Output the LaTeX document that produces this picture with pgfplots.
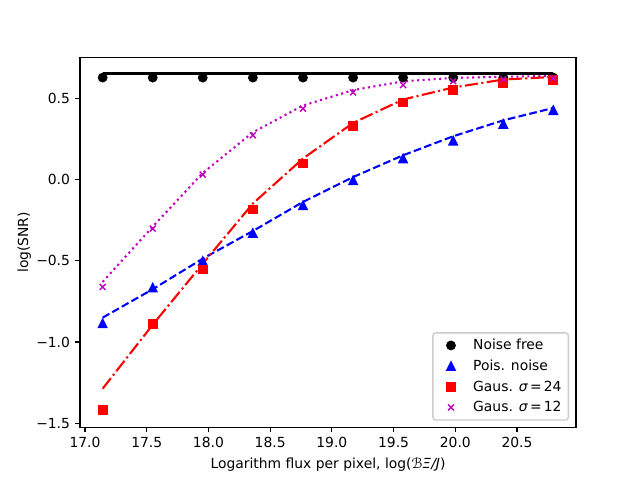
\documentclass[border=0pt]{standalone}
\usepackage{fontspec}
\setmainfont{DejaVu Sans}
\usepackage{pgfplots}
\pgfplotsset{compat=1.18}

\definecolor{mplm}{rgb}{0.75,0,0.75}
\pgfdeclareplotmark{mpltri}{%
  \pgfpathmoveto{\pgfqpoint{0pt}{\pgfplotmarksize}}%
  \pgfpathlineto{\pgfqpoint{-\pgfplotmarksize}{-\pgfplotmarksize}}%
  \pgfpathlineto{\pgfqpoint{\pgfplotmarksize}{-\pgfplotmarksize}}%
  \pgfpathclose\pgfusepathqfillstroke}

\pgfplotstableread{
x      nf     nfl    po      pol     g24     g24l    g12     g12l
17.143 0.627  0.652  -0.885  -0.850  -1.420  -1.287  -0.661  -0.630
17.549 0.627  0.652  -0.665  -0.675  -0.887  -0.893  -0.302  -0.290
17.954 0.627  0.652  -0.502  -0.487  -0.553  -0.518   0.030   0.040
18.360 0.627  0.652  -0.329  -0.317  -0.184  -0.148   0.272   0.290
18.766 0.627  0.652  -0.159  -0.138   0.098   0.129   0.436   0.455
19.172 0.627  0.652  -0.005   0.015   0.327   0.348   0.536   0.550
19.577 0.627  0.652   0.129   0.149   0.473   0.492   0.581   0.604
19.983 0.627  0.652   0.239   0.266   0.549   0.566   0.605   0.625
20.389 0.627  0.652   0.342   0.364   0.594   0.615   0.617   0.632
20.794 0.627  0.652   0.426   0.440   0.610   0.631   0.622   0.637
}\datatab

\newcommand\tfont{\fontsize{10bp}{12bp}\selectfont}

\begin{document}
\begin{tikzpicture}
\useasboundingbox (0,0) rectangle (460.8bp,345.6bp);
\begin{axis}[
  at={(57.6bp,38.016bp)}, anchor=south west,
  scale only axis, width=357.12bp, height=266.112bp,
  xmin=16.9595, xmax=20.978, ymin=-1.524, ymax=0.750,
  xtick={17,17.5,18,18.5,19,19.5,20,20.5},
  xticklabels={17.0,17.5,18.0,18.5,19.0,19.5,20.0,20.5},
  ytick={-1.5,-1,-0.5,0,0.5},
  yticklabels={−1.5,−1.0,−0.5,0.0,0.5},
  tick align=outside, xtick pos=bottom, ytick pos=left,
  major tick length=3.5bp,
  every tick/.style={line width=0.8bp, black},
  axis line style={line width=0.8bp},
  xticklabel style={font=\tfont, inner sep=0pt, anchor=north, yshift=-3.5bp},
  yticklabel style={font=\tfont, inner sep=0pt, anchor=east, xshift=-3.5bp},
  every axis x label/.style={at={(axis description cs:0.5,-0.082)}, anchor=north, inner sep=0pt, font=\tfont},
  every axis y label/.style={at={(axis description cs:-0.098,0.5)}, rotate=90, anchor=south, inner sep=0pt, font=\tfont},
  xlabel={Logarithm flux per pixel, log(\textit{ℬΞ/J})},
  ylabel={log(SNR)},
  legend style={
    at={(axis description cs:0.986,0.0176)}, anchor=south east,
    draw=black!20, line width=1bp, rounded corners=2bp,
    fill=white, fill opacity=0.8, text opacity=1,
    font=\tfont, inner xsep=3bp, inner ysep=2.5bp,
    row sep=1.8bp,
    cells={anchor=west, inner sep=0pt, text height=7.6bp, text depth=2.5bp},
    /tikz/every odd column/.append style={column sep=4bp},
  },
  legend image code/.code={%
    \path[draw=none,fill=none] (0bp,-3bp) rectangle (20bp,3bp);
    \draw[mark repeat=2,mark phase=2,#1,opacity=1,fill opacity=1,draw opacity=1] plot coordinates {(0bp,0bp) (10bp,0bp) (20bp,0bp)};},
  clip=false,
]
% Noise free
\addplot[only marks, mark=*, mark size=3bp, black, line width=1bp] table[x=x,y=nf] {\datatab};
\addlegendentry{Noise free}
\addplot[forget plot, black, line width=1.5bp] table[x=x,y=nfl] {\datatab};
% Poisson
\addplot[only marks, mark=mpltri, mark size=3bp, blue, line width=1bp] table[x=x,y=po] {\datatab};
\addlegendentry{Pois. noise}
\addplot[forget plot, blue, line width=1.5bp, dash pattern=on 5.55bp off 2.4bp] table[x=x,y=pol] {\datatab};
% Gauss 24
\addplot[only marks, mark=square*, mark size=3bp, red, line width=1bp] table[x=x,y=g24] {\datatab};
\addlegendentry{Gaus. \textit{σ}\hspace{1.5bp}=\hspace{1.5bp}24}
\addplot[forget plot, red, line width=1.5bp, dash pattern=on 9.6bp off 2.4bp on 1.5bp off 2.4bp] table[x=x,y=g24l] {\datatab};
% Gauss 12
\addplot[only marks, mark=x, mark size=3bp, mplm, line width=1bp] table[x=x,y=g12] {\datatab};
\addlegendentry{Gaus. \textit{σ}\hspace{1.5bp}=\hspace{1.5bp}12}
\addplot[forget plot, mplm, line width=1.5bp, dash pattern=on 1.5bp off 2.475bp] table[x=x,y=g12l] {\datatab};
\end{axis}
\end{tikzpicture}
\end{document}
